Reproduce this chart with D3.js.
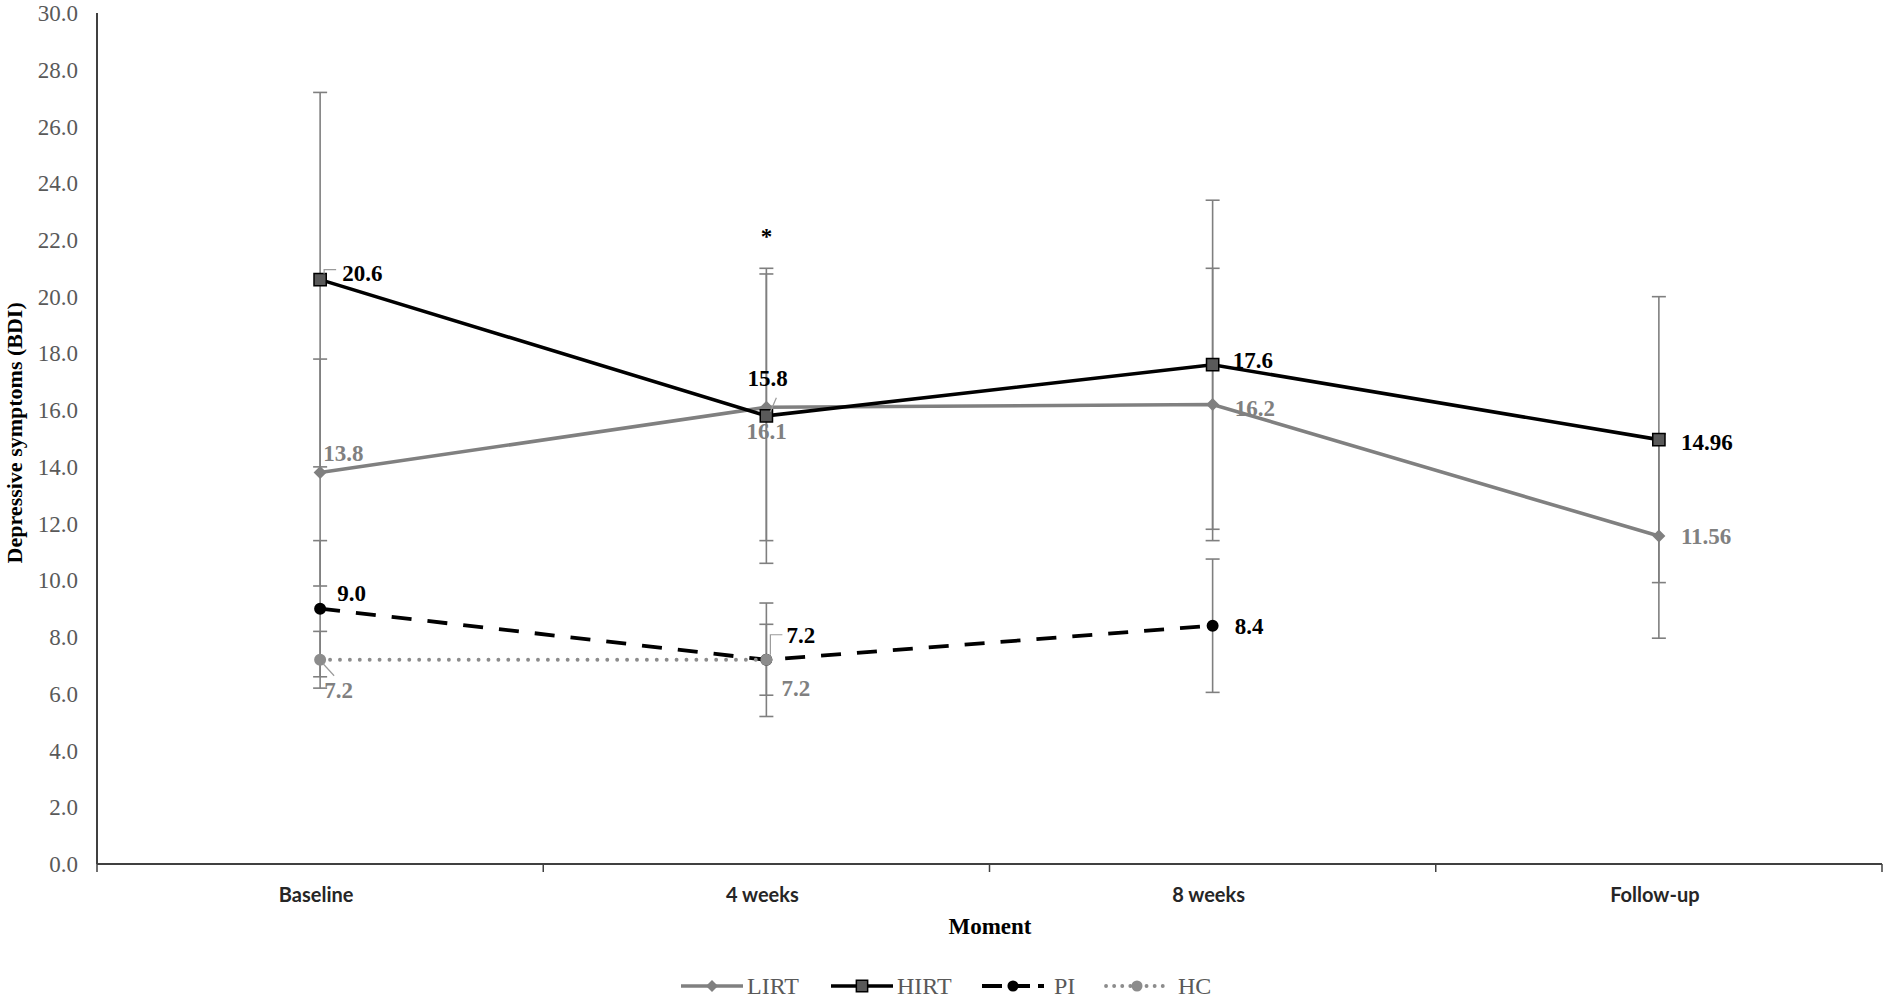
<!DOCTYPE html>
<html>
<head>
<meta charset="utf-8">
<script src="https://cdn.jsdelivr.net/npm/d3@7/dist/d3.min.js"></script>
<style>
  html, body { margin: 0; padding: 0; background: #fff; }
  svg { display: block; }
</style>
</head>
<body>
<div id="chart"></div>
<script>
// data
const moments = ['Baseline', '4 weeks', '8 weeks', 'Follow-up'];
const yTicks = [0, 2, 4, 6, 8, 10, 12, 14, 16, 18, 20, 22, 24, 26, 28, 30];

const lirtMean = [13.8, 16.1, 16.2, 11.56];
const lirtSD = [4.0, 4.7, 4.8, 3.6];
const lirtLabels = ['13.8', '16.1', '16.2', '11.56'];

const hirtMean = [20.6, 15.8, 17.6, 14.96];
const hirtSD = [6.6, 5.2, 5.8, 5.04];
const hirtLabels = ['20.6', '15.8', '17.6', '14.96'];

const piMean = [9.0, 7.2, 8.4, null];
const piSD = [2.4, 2.0, 2.35, null];
const piLabels = ['9.0', '7.2', '8.4', null];

const hcMean = [7.2, 7.2, null, null];
const hcSD = [1.0, 1.25, null, null];
const hcLabels = ['7.2', '7.2', null, null];

const starMoment = '4 weeks';
const starValue = 22.3;

const width = 1890;
const height = 1000;
const margin = { top: 13, right: 8, bottom: 136, left: 97 };

const svg = d3.select('#chart')
    .append('svg')
    .attr('width', width)
    .attr('height', height);

const x = d3.scaleBand()
    .domain(moments)
    .range([margin.left, width - margin.right]);
const cx = d => x(d) + x.bandwidth() / 2;

const y = d3.scaleLinear()
    .domain([0, 30])
    .range([height - margin.bottom, margin.top]);

const serif = '"Liberation Serif", "Times New Roman", serif';

// series styling, label placement (dx, dy from the point, text middle)
const series = [
    { name: 'PI', mean: piMean, sd: piSD, labels: piLabels, color: '#000', marker: 'circle', mfill: '#000',
      dash: '20,16', cap: 'butt', width: 3.8, labelColor: '#000',
      offs: [[17, -16], [20, -25], [22, 0], null], legendDx: 10 },
    { name: 'HC', mean: hcMean, sd: hcSD, labels: hcLabels, color: '#8c8c8c', marker: 'circle', mfill: '#8c8c8c',
      dash: '0.1,9.8', cap: 'round', width: 3.8, labelColor: '#808080',
      offs: [[4, 30], [15, 28], null, null], legendDx: 10 },
    { name: 'LIRT', mean: lirtMean, sd: lirtSD, labels: lirtLabels, color: '#808080', marker: 'diamond', mfill: '#808080',
      dash: null, cap: 'butt', width: 3.6, labelColor: '#808080',
      offs: [[3, -20], [-20, 24], [22, 3], [22, 0]], legendDx: 4 },
    { name: 'HIRT', mean: hirtMean, sd: hirtSD, labels: hirtLabels, color: '#000', marker: 'square', mfill: '#595959',
      dash: null, cap: 'butt', width: 3.6, labelColor: '#000',
      offs: [[22, -7], [-19, -38], [20, -5], [22, 2]], legendDx: 4 }
];
const legendOrder = ['LIRT', 'HIRT', 'PI', 'HC'];

// axes
const axisColor = '#404040';
svg.append('line')
    .attr('x1', margin.left).attr('x2', margin.left)
    .attr('y1', y(30)).attr('y2', y(0))
    .attr('stroke', axisColor).attr('stroke-width', 2);
svg.append('line')
    .attr('x1', margin.left).attr('x2', width - margin.right)
    .attr('y1', y(0)).attr('y2', y(0))
    .attr('stroke', axisColor).attr('stroke-width', 2);

const xTickPos = moments.map(m => x(m)).concat([x.range()[1]]);
svg.selectAll('.xtick')
    .data(xTickPos)
    .join('line')
    .attr('class', 'xtick')
    .attr('x1', d => d).attr('x2', d => d)
    .attr('y1', y(0)).attr('y2', y(0) + 8)
    .attr('stroke', axisColor).attr('stroke-width', 1.5);

svg.selectAll('.ytick')
    .data(yTicks)
    .join('text')
    .attr('class', 'ytick')
    .attr('x', margin.left - 19)
    .attr('y', d => y(d))
    .attr('dy', '0.35em')
    .attr('text-anchor', 'end')
    .attr('font-family', serif)
    .attr('font-size', 23)
    .attr('fill', '#595959')
    .text(d => d3.format('.1f')(d));

svg.selectAll('.xlabel')
    .data(moments)
    .join('text')
    .attr('class', 'xlabel')
    .attr('x', d => cx(d) - 4)
    .attr('y', y(0) + 31)
    .attr('dy', '0.35em')
    .attr('text-anchor', 'middle')
    .attr('font-family', 'Lato, "Liberation Sans", sans-serif')
    .attr('font-weight', 'bold')
    .attr('font-size', 20)
    .attr('fill', '#262626')
    .text(d => d);

svg.append('text')
    .attr('x', 990)
    .attr('y', 926)
    .attr('dy', '0.35em')
    .attr('text-anchor', 'middle')
    .attr('font-family', serif)
    .attr('font-weight', 'bold')
    .attr('font-size', 23)
    .text('Moment');

svg.append('text')
    .attr('transform', `translate(22, ${y(15.2)}) rotate(-90)`)
    .attr('text-anchor', 'middle')
    .attr('font-family', serif)
    .attr('font-weight', 'bold')
    .attr('font-size', 22)
    .text('Depressive symptoms (BDI)');

// error bars first
const errG = svg.append('g');
series.forEach(s => {
    s.mean.forEach((m, i) => {
        if (m === null) return;
        const xc = cx(moments[i]);
        const lo = y(m - s.sd[i]);
        const hi = y(m + s.sd[i]);
        errG.append('line')
            .attr('x1', xc).attr('x2', xc).attr('y1', lo).attr('y2', hi)
            .attr('stroke', '#7f7f7f').attr('stroke-width', 1.6);
        [lo, hi].forEach(v => {
            errG.append('line')
                .attr('x1', xc - 7).attr('x2', xc + 7).attr('y1', v).attr('y2', v)
                .attr('stroke', '#7f7f7f').attr('stroke-width', 1.6);
        });
    });
});

const markerPath = (type, scale) => {
    if (type === 'circle') return d3.symbol(d3.symbolCircle, 113 * scale)();
    if (type === 'square') return d3.symbol(d3.symbolSquare, 150 * scale)();
    return d3.symbol(d3.symbolSquare, 85 * scale)();
};

const drawMarker = (g, s, px, py, scale) => {
    g.append('path')
        .attr('d', markerPath(s.marker, scale))
        .attr('transform', `translate(${px},${py})` + (s.marker === 'diamond' ? ' rotate(45)' : ''))
        .attr('fill', s.mfill)
        .attr('stroke', s.marker === 'square' ? '#000' : 'none')
        .attr('stroke-width', 1.5);
};

// lines and markers
series.forEach(s => {
    const pts = s.mean.map((m, i) => ({ m, moment: moments[i] })).filter(p => p.m !== null);
    const line = d3.line().x(p => cx(p.moment)).y(p => y(p.m));
    svg.append('path')
        .datum(pts)
        .attr('d', line)
        .attr('fill', 'none')
        .attr('stroke', s.color)
        .attr('stroke-width', s.width)
        .attr('stroke-linecap', s.cap)
        .attr('stroke-dasharray', s.dash);
    const g = svg.append('g');
    pts.forEach(p => drawMarker(g, s, cx(p.moment), y(p.m), 1));
});

// leader lines for some of the labels
const leaders = [
    { moment: 'Baseline', value: 20.6, pts: [[4, -6], [4, -10], [16, -10]] },
    { moment: 'Baseline', value: 7.2, pts: [[3, 4], [14, 16]] },
    { moment: '4 weeks', value: 15.8, pts: [[4, -4], [10, -18]] },
    { moment: '4 weeks', value: 7.2, pts: [[4, -5], [4, -25], [16, -25]] }
];
leaders.forEach(l => {
    const x0 = cx(l.moment), y0 = y(l.value);
    svg.append('path')
        .attr('d', d3.line()(l.pts.map(p => [x0 + p[0], y0 + p[1]])))
        .attr('fill', 'none')
        .attr('stroke', '#9a9a9a')
        .attr('stroke-width', 1.2);
});

// data labels
series.forEach(s => {
    s.mean.forEach((m, i) => {
        if (m === null) return;
        const o = s.offs[i];
        svg.append('text')
            .attr('x', cx(moments[i]) + o[0])
            .attr('y', y(m) + o[1])
            .attr('dy', '0.35em')
            .attr('font-family', serif)
            .attr('font-weight', 'bold')
            .attr('font-size', 23)
            .attr('fill', s.labelColor)
            .text(s.labels[i]);
    });
});

// significance mark
svg.append('text')
    .attr('x', cx(starMoment))
    .attr('y', y(starValue))
    .attr('dy', '0.55em')
    .attr('text-anchor', 'middle')
    .attr('font-family', serif)
    .attr('font-weight', 'bold')
    .attr('font-size', 23)
    .text('*');

// legend
const legendX = { LIRT: 681, HIRT: 831, PI: 982, HC: 1106 };
const legendY = 986;
legendOrder.forEach(name => {
    const s = series.find(d => d.name === name);
    const x0 = legendX[name];
    const g = svg.append('g');
    g.append('line')
        .attr('x1', x0).attr('x2', x0 + 62)
        .attr('y1', legendY).attr('y2', legendY)
        .attr('stroke', s.color)
        .attr('stroke-width', s.width)
        .attr('stroke-linecap', s.cap)
        .attr('stroke-dasharray', s.name === 'PI' ? '20,8' : (s.name === 'HC' ? '0.1,8' : s.dash));
    drawMarker(g, s, x0 + 31, legendY, 0.85);
    g.append('text')
        .attr('x', x0 + 62 + s.legendDx)
        .attr('y', legendY)
        .attr('dy', '0.35em')
        .attr('font-family', serif)
        .attr('font-size', 24)
        .attr('fill', '#595959')
        .text(name);
});
</script>
</body>
</html>
